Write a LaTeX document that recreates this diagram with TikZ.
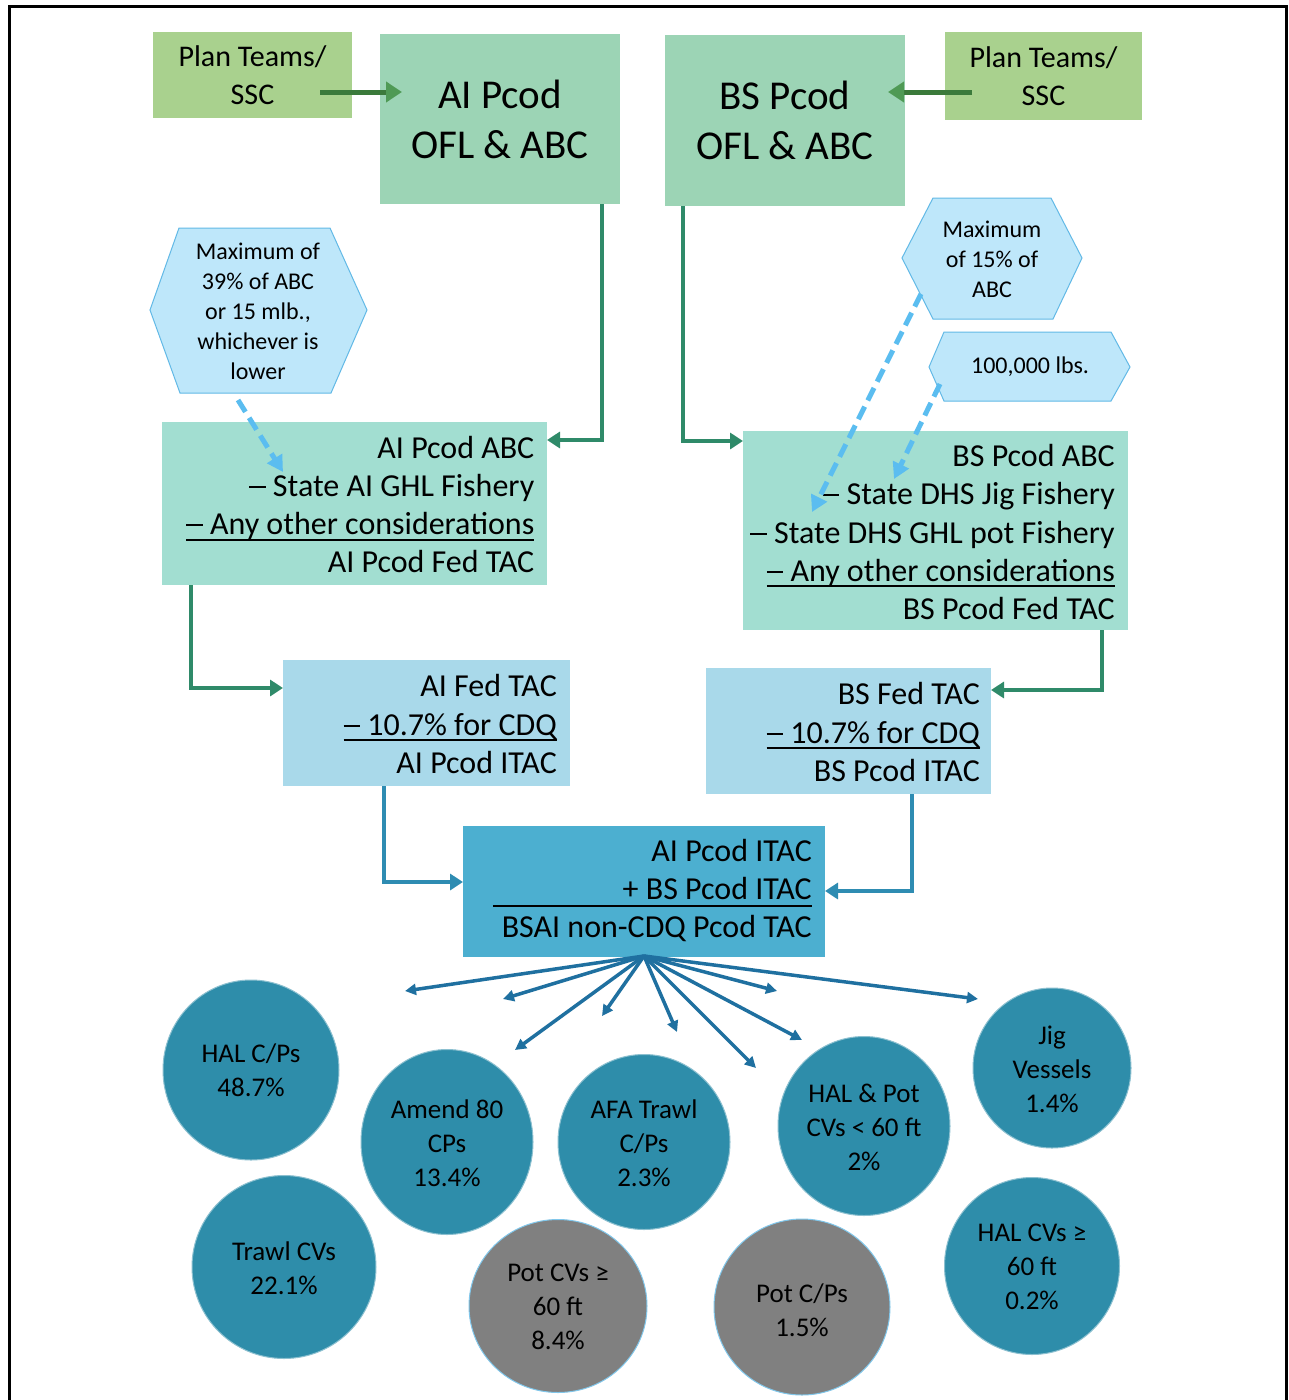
\documentclass[tikz,border=0pt]{standalone}
\usepackage{fontspec}
\setmainfont{Carlito}
\usetikzlibrary{arrows.meta,shapes.geometric}
\definecolor{ptgreen}{HTML}{A9D18E}
\definecolor{oflgreen}{HTML}{9CD4B5}
\definecolor{tealbox}{HTML}{A2DED1}
\definecolor{fedblue}{HTML}{A9D9EA}
\definecolor{bsaiblue}{HTML}{4CAFD0}
\definecolor{circblue}{HTML}{2E8DAA}
\definecolor{circgray}{HTML}{808080}
\definecolor{hexfill}{HTML}{BEE7FA}
\definecolor{hexline}{HTML}{62B9E6}
\definecolor{dashblue}{HTML}{5BBDF0}
\definecolor{conngreen}{HTML}{2F8A69}
\definecolor{topgreen}{HTML}{3B7A3B}
\definecolor{toptip}{HTML}{4F9A55}
\definecolor{connblue}{HTML}{2E8CB2}
\definecolor{fanblue}{HTML}{1F70A0}
\newcommand{\undl}[1]{\leavevmode\setbox0\hbox{#1}\rlap{\rule[-6pt]{\wd0}{2pt}}\box0}
\newcommand{\dsh}{\rule[8.5pt]{16.5pt}{2pt}}
\tikzset{
  boxbase/.style={rectangle, anchor=north west, inner sep=0pt, outer sep=0pt},
  ptbox/.style={boxbase, fill=ptgreen, align=center, font=\fontsize{30}{38}\selectfont},
  oflbox/.style={boxbase, fill=oflgreen, align=center, font=\fontsize{41}{50}\selectfont},
  calctext/.style={anchor=east, align=right, inner sep=0pt, font=\fontsize{32}{38.3}\selectfont},
  hexshape/.style={fill=hexfill, draw=hexline, line width=1pt},
  hextext/.style={align=center, inner sep=0pt, font=\fontsize{24}{30}\selectfont},
  ellbase/.style={ellipse, inner sep=0pt, draw=circblue!55!white, line width=1pt},
  blueell/.style={ellbase, fill=circblue},
  grayell/.style={ellbase, fill=circgray, draw=hexline!80!white},
  circtext/.style={align=center, inner sep=0pt, font=\fontsize{27}{34}\selectfont},
  toparrow/.style={draw=topgreen, line width=5pt, -{Triangle[length=16pt,width=20pt,color=toptip]}},
  gconn/.style={draw=conngreen, line width=4pt, -{Triangle[length=13pt,width=16pt]}},
  bconn/.style={draw=connblue, line width=4pt, -{Triangle[length=13pt,width=16pt]}},
  fanarrow/.style={draw=fanblue, line width=3.5pt, -{Triangle[length=11pt,width=11pt]}},
  dasharrow/.style={draw=dashblue, line width=5pt, dash pattern=on 14pt off 7pt, -{Triangle[length=16pt,width=17pt]}}
}
\begin{document}
\begin{tikzpicture}[x=1pt,y=-1pt]
\useasboundingbox (0,0) rectangle (1288,1400);
\fill[white] (0,0) rectangle (1288,1400);
\draw[line width=3pt] (9,1400) -- (9,6) -- (1286,6) -- (1286,1400);

% top boxes
\node[ptbox, minimum width=199pt, minimum height=86pt] (pt1) at (153,32) {Plan Teams/\\SSC};
\node[oflbox, minimum width=240pt, minimum height=170pt] (aiofl) at (380,34) {AI Pcod\\OFL \& ABC};
\node[oflbox, minimum width=240pt, minimum height=171pt] (bsofl) at (665,35) {BS Pcod\\OFL \& ABC};
\node[ptbox, minimum width=197pt, minimum height=88pt] (pt2) at (945,32) {Plan Teams/\\SSC};

% hexagons
\draw[hexshape] (150,310) -- (179,228) -- (330,228) -- (367,310) -- (331,393) -- (180,393) -- cycle;
\node[hextext] (hx1) at (258,311) {Maximum of\\39\% of ABC\\or 15 mlb.,\\whichever is\\lower};
\draw[hexshape] (902,258) -- (933,198) -- (1051,198) -- (1082,258) -- (1053,319) -- (933,319) -- cycle;
\node[hextext] (hx2) at (992,259) {Maximum\\of 15\% of\\ABC};
\draw[hexshape] (929,367) -- (944,332) -- (1111,332) -- (1130,367) -- (1111,401) -- (944,401) -- cycle;
\node[hextext] (hx3) at (1030,367) {100,000 lbs.};

% calculation boxes
\node[boxbase, fill=tealbox, minimum width=385pt, minimum height=163pt] (aibox) at (162,422) {};
\node[calctext] (aiboxt) at ([xshift=-12.5pt,yshift=-1pt]aibox.east)
  {AI Pcod ABC\\\dsh{} State AI GHL Fishery\\\undl{\dsh{} Any other considerations}\\AI Pcod Fed TAC};
\node[boxbase, fill=tealbox, minimum width=385pt, minimum height=199pt] (bsbox) at (743,431) {};
\node[calctext] (bsboxt) at ([xshift=-13pt,yshift=-1.5pt]bsbox.east)
  {BS Pcod ABC\\\dsh{} State DHS Jig Fishery\\\dsh{} State DHS GHL pot Fishery\\\undl{\dsh{} Any other considerations}\\BS Pcod Fed TAC};
\node[boxbase, fill=fedblue, minimum width=287pt, minimum height=126pt] (aifed) at (283,660) {};
\node[calctext] (aifedt) at ([xshift=-13pt,yshift=-1pt]aifed.east)
  {AI Fed TAC\\\undl{\dsh{} 10.7\% for CDQ}\\AI Pcod ITAC};
\node[boxbase, fill=fedblue, minimum width=285pt, minimum height=126pt] (bsfed) at (706,668) {};
\node[calctext] (bsfedt) at ([xshift=-11pt,yshift=-1pt]bsfed.east)
  {BS Fed TAC\\\undl{\dsh{} 10.7\% for CDQ}\\BS Pcod ITAC};
\node[boxbase, fill=bsaiblue, minimum width=362pt, minimum height=131pt] (bsai) at (463,826) {};
\node[calctext] (bsait) at ([xshift=-13pt,yshift=1pt]bsai.east)
  {AI Pcod ITAC\\+ BS Pcod ITAC\llap{\rule[-7pt]{319pt}{2pt}}\\BSAI non-CDQ Pcod TAC};

% top arrows
\draw[toparrow] ([xshift=-32pt,yshift=-17pt]pt1.east) -- ([xshift=22pt,yshift=27pt]aiofl.west);
\draw[toparrow] ([xshift=27pt,yshift=-16pt]pt2.west) -- ([xshift=-17pt,yshift=28.5pt]bsofl.east);

% flow connectors
\draw[gconn] ([xshift=102pt]aiofl.south) |- ([yshift=63.5pt]aibox.east);
\draw[gconn] ([xshift=-102pt]bsofl.south) |- ([yshift=89.5pt]bsbox.west);
\draw[gconn] ([xshift=-163.5pt]aibox.south) |- ([yshift=35pt]aifed.west);
\draw[gconn] ([xshift=166.5pt]bsbox.south) |- ([yshift=41pt]bsfed.east);
\draw[bconn] ([xshift=-42.5pt]aifed.south) |- ([yshift=9.5pt]bsai.west);
\draw[bconn] ([xshift=63.5pt]bsfed.south) |- ([yshift=0.5pt]bsai.east);

% dashed arrows
\coordinate (h1s) at (238,400);
\coordinate (h1e) at (283,472);
\coordinate (h2s) at (921,294);
\coordinate (h2e) at (812,512);
\coordinate (h3s) at (940,384);
\coordinate (h3e) at (894,479);
\draw[dasharrow] (h1s) -- (h1e);
\draw[dasharrow] (h2s) -- (h2e);
\draw[dasharrow] (h3s) -- (h3e);

% fan
\coordinate (f1) at (405,991);
\coordinate (f2) at (503,999);
\coordinate (f3) at (515,1050);
\coordinate (f4) at (602,1016);
\coordinate (f5) at (677,1032);
\coordinate (f6) at (756,1068);
\coordinate (f7) at (802,1040);
\coordinate (f8) at (777,991);
\coordinate (f9) at (978,999);
\foreach \t in {f1,f2,f3,f4,f5,f6,f7,f8,f9}
  \draw[fanarrow] ([yshift=1pt]bsai.south) -- (\t);

% circles
\node[blueell, minimum width=176pt, minimum height=180pt] (c1) at (251,1070) {};
\node[circtext] (c1t) at (251,1070) {HAL C/Ps\\48.7\%};
\node[blueell, minimum width=172pt, minimum height=185pt] (c2) at (447,1142) {};
\node[circtext] (c2t) at (447,1143) {Amend 80\\CPs\\13.4\%};
\node[blueell, minimum width=172pt, minimum height=175pt] (c3) at (644,1142) {};
\node[circtext] (c3t) at (644,1143) {AFA Trawl\\C/Ps\\2.3\%};
\node[blueell, minimum width=172pt, minimum height=179pt] (c4) at (864,1126) {};
\node[circtext] (c4t) at (864,1127) {HAL \& Pot\\CVs < 60 ft\\2\%};
\node[blueell, minimum width=158pt, minimum height=160pt] (c5) at (1052,1068) {};
\node[circtext] (c5t) at (1052,1069) {Jig\\Vessels\\1.4\%};
\node[blueell, minimum width=184pt, minimum height=183pt] (c6) at (284,1267) {};
\node[circtext] (c6t) at (284,1268) {Trawl CVs\\22.1\%};
\node[grayell, minimum width=178pt, minimum height=173pt] (c7) at (558,1306) {};
\node[circtext] (c7t) at (558,1307) {Pot CVs ≥\\60 ft\\8.4\%};
\node[grayell, minimum width=176pt, minimum height=176pt] (c8) at (802,1307) {};
\node[circtext] (c8t) at (802,1310) {Pot C/Ps\\1.5\%};
\node[blueell, minimum width=175pt, minimum height=177pt] (c9) at (1032,1266) {};
\node[circtext] (c9t) at (1032,1267) {HAL CVs ≥\\60 ft\\0.2\%};
\end{tikzpicture}
\end{document}
